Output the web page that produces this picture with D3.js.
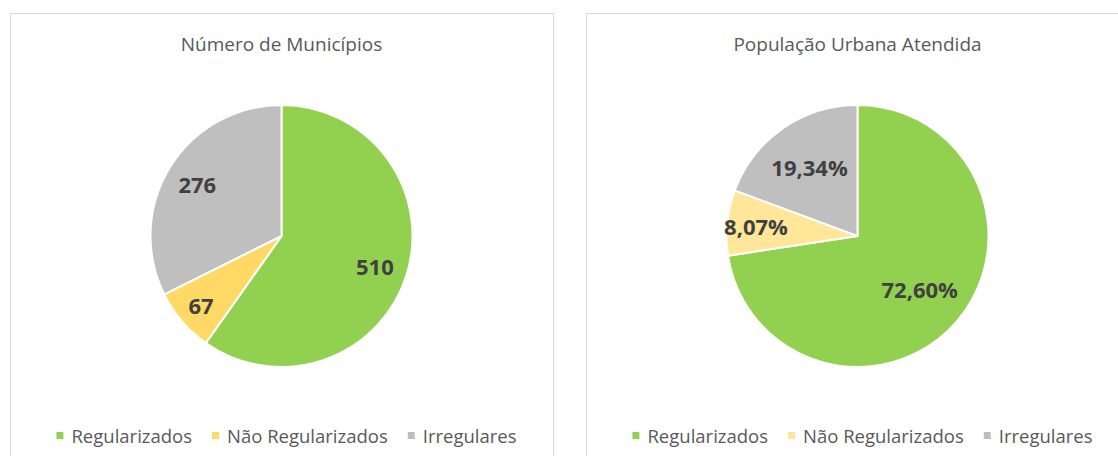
<!DOCTYPE html>
<html>
<head>
<meta charset="utf-8">
<script src="https://cdn.jsdelivr.net/npm/d3@7"></script>
<style>
  body { margin: 0; background: #fff; }
  svg { display: block; font-family: "Open Sans", sans-serif; }
</style>
</head>
<body>
<svg id="chart"></svg>
<script>
// Data
const categories = ["Regularizados", "Não Regularizados", "Irregulares"];
const municipiosValues = [510, 67, 276];
const populacaoValues = [72.60, 8.07, 19.34];
const titles = ["Número de Municípios", "População Urbana Atendida"];

// Colors (the two charts use a slightly different yellow)
const leftColors = ["#92d050", "#ffd966", "#bfbfbf"];
const rightColors = ["#92d050", "#ffe699", "#bfbfbf"];

// Layout
const width = 1118;
const height = 456;
const panelWidth = 543;
const radius = 131;

const svg = d3.select('#chart')
    .attr('width', width)
    .attr('height', height);

function drawPanel(opts) {
    const g = svg.append('g')
        .attr('transform', `translate(${opts.x}, 13)`);

    // frame
    g.append('rect')
        .attr('x', 0.5)
        .attr('y', 0.5)
        .attr('width', panelWidth)
        .attr('height', 470)
        .attr('fill', '#fff')
        .attr('stroke', '#d9d9d9');

    // title
    g.append('text')
        .attr('x', panelWidth / 2)
        .attr('y', 38)
        .attr('text-anchor', 'middle')
        .attr('font-size', 19)
        .attr('fill', '#595959')
        .text(opts.title);

    const color = d3.scaleOrdinal().domain(categories).range(opts.colors);

    const pie = d3.pie().sort(null).value(d => d.value);
    const arcs = pie(categories.map((c, i) => ({ cat: c, value: opts.values[i] })));
    const arc = d3.arc().innerRadius(0).outerRadius(radius);

    const pieG = g.append('g')
        .attr('transform', `translate(${panelWidth / 2}, 223)`);

    pieG.selectAll('path')
        .data(arcs)
        .enter()
        .append('path')
        .attr('d', arc)
        .attr('fill', d => color(d.data.cat))
        .attr('stroke', '#fff')
        .attr('stroke-width', 2)
        .attr('stroke-linejoin', 'round');

    // data labels (best-fit style radius per slice)
    pieG.selectAll('text.lbl')
        .data(arcs)
        .enter()
        .append('text')
        .attr('class', 'lbl')
        .attr('transform', (d, i) => {
            const r = opts.labelR[i];
            const c = d3.arc().innerRadius(r).outerRadius(r).centroid(d);
            return `translate(${c[0]}, ${c[1]})`;
        })
        .attr('text-anchor', 'middle')
        .attr('dominant-baseline', 'central')
        .attr('font-size', 22)
        .attr('font-weight', 'bold')
        .attr('fill', '#404040')
        .text(d => opts.format(d.data.value));

    // legend
    const legend = g.append('g');
    let cx = 0;
    categories.forEach((c, i) => {
        const item = legend.append('g').attr('transform', `translate(${cx}, 0)`);
        item.append('rect')
            .attr('x', 0)
            .attr('y', -3)
            .attr('width', 7)
            .attr('height', 7)
            .attr('fill', opts.colors[i]);
        const t = item.append('text')
            .attr('x', 15)
            .attr('y', 0)
            .attr('dominant-baseline', 'central')
            .attr('font-size', 18.5)
            .attr('fill', '#595959')
            .text(c);
        cx += 15 + t.node().getComputedTextLength() + 20;
    });
    const legendW = cx - 20;
    legend.attr('transform', `translate(${panelWidth / 2 + 5 - legendW / 2}, 422)`);
}

drawPanel({
    x: 10,
    title: titles[0],
    values: municipiosValues,
    colors: leftColors,
    labelR: [98, 106, 99],
    format: d => d3.format('d')(d)
});

drawPanel({
    x: 586,
    title: titles[1],
    values: populacaoValues,
    colors: rightColors,
    labelR: [82, 102, 84],
    format: d => d.toFixed(2).replace('.', ',') + '%'
});
</script>
</body>
</html>
